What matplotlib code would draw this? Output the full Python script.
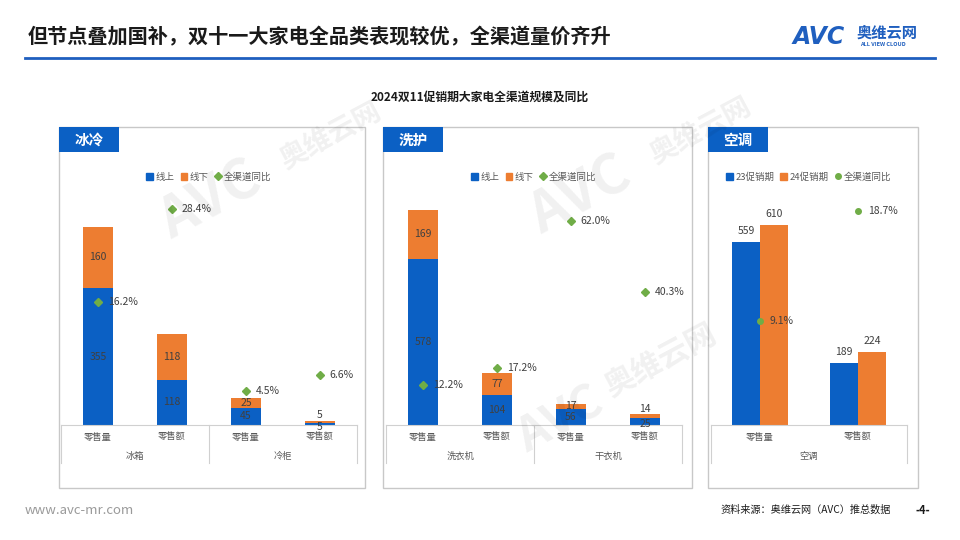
import matplotlib.pyplot as plt
from matplotlib.lines import Line2D
from matplotlib.patches import Rectangle, Patch

plt.rcParams['font.family'] = ['Noto Sans CJK SC', 'DejaVu Sans']

# ---- data ----
cats = ['零售量', '零售额', '零售量', '零售额']

fridge_groups = ['冰箱', '冷柜']
fridge_online = [355, 118, 45, 5]
fridge_offline = [160, 118, 25, 5]
fridge_yoy = [16.2, 28.4, 4.5, 6.6]

wash_groups = ['洗衣机', '干衣机']
wash_online = [578, 104, 56, 25]
wash_offline = [169, 77, 17, 14]
wash_yoy = [12.2, 17.2, 62.0, 40.3]

ac_cats = ['零售量', '零售额']
ac_group = '空调'
ac_23 = [559, 189]
ac_24 = [610, 224]
ac_yoy = [9.1, 18.7]

BLUE = '#0B60C4'
ORANGE = '#ED7D31'
GREEN = '#70AD47'
GRAY = '#595959'
LINE = '#D0D0D0'

W, H = 960, 540
fig = plt.figure(figsize=(9.6, 5.4), dpi=100)


def rect(x0, y0, x1, y1):
    # pixel box -> figure fraction
    return [x0 / W, 1 - y1 / H, (x1 - x0) / W, (y1 - y0) / H]


def fx(x):
    return x / W


def fy(y):
    return 1 - y / H


# ---- header / footer ----
fig.text(fx(28), fy(37), '但节点叠加国补，双十一大家电全品类表现较优，全渠道量价齐升',
         fontsize=14.5, fontweight='bold', color='#1a1a1a', va='center')
fig.add_artist(Line2D([fx(25), fx(935)], [fy(58), fy(58)], color='#1F5FBF', lw=2))
fig.text(fx(793), fy(37), 'AVC', fontsize=17, fontweight='bold', style='italic',
         color='#1F5FBF', va='center', family='DejaVu Sans')
fig.text(fx(857), fy(33), '奥维云网', fontsize=11, fontweight='bold', color='#1F5FBF', va='center')
fig.text(fx(860), fy(44.5), 'ALL VIEW CLOUD', fontsize=4, fontweight='bold', color='#1F5FBF', va='center')
fig.text(0.5, fy(97), '2024双11促销期大家电全渠道规模及同比', fontsize=8.5,
         fontweight='bold', color='#1a1a1a', ha='center', va='center')
fig.text(fx(25), fy(510), 'www.avc-mr.com', fontsize=9.5, color='#9a9a9a', va='center')
fig.text(fx(720), fy(510), '资料来源：奥维云网（AVC）推总数据', fontsize=7.3,
         color='#1a1a1a', va='center')
fig.text(fx(916), fy(510), '-4-', fontsize=8, fontweight='bold', color='#1a1a1a', va='center')

# ---- faint watermarks ----
for (x, y, s, fs) in [(210, 200, 'AVC', 40), (580, 195, 'AVC', 40), (330, 135, '奥维云网', 20),
                      (700, 130, '奥维云网', 20), (660, 360, '奥维云网', 22), (560, 420, 'AVC', 34)]:
    fig.text(fx(x), fy(y), s, fontsize=fs, fontweight='bold', style='italic', color='#000000',
             alpha=0.06, rotation=28, ha='center', va='center')

# ---- panel frames and tabs ----
panels = [(59, 365, '冰冷'), (383, 692, '洗护'), (708, 918, '空调')]
for x0, x1, name in panels:
    fig.add_artist(Rectangle((fx(x0), fy(488)), (x1 - x0) / W, (488 - 127) / H,
                             transform=fig.transFigure, fill=False, ec='#C8C8C8', lw=1))
    fig.add_artist(Rectangle((fx(x0), fy(152)), 60 / W, 25 / H, transform=fig.transFigure,
                             fc='#0B60C4', ec='none'))
    fig.text(fx(x0 + 30), fy(139.5), name, fontsize=10.5, fontweight='bold', color='white',
             ha='center', va='center')


def cat_axis(ax, labels, groups, split):
    n = len(labels)
    tr = ax.get_xaxis_transform()
    depth = 38 / 230
    ax.plot([-0.5, n - 0.5], [0, 0], transform=tr, color=LINE, lw=0.8, clip_on=False)
    xs = [-0.5, n - 0.5] + ([split] if split is not None else [])
    for xv in xs:
        ax.plot([xv, xv], [0, -depth], transform=tr, color=LINE, lw=0.8, clip_on=False)
    for i, lab in enumerate(labels):
        ax.text(i, -12 / 230, lab, transform=tr, ha='center', va='center', fontsize=6.7, color=GRAY)
    for gx, g in groups:
        ax.text(gx, -31 / 230, g, transform=tr, ha='center', va='center', fontsize=6.7, color=GRAY)


def stacked_panel(x0, x1, online, offline, yoy, groups, ymax, y2max, legend_cx):
    ax = fig.add_axes(rect(x0, 195, x1, 425))
    ax.set_xlim(-0.5, 3.5)
    ax.set_ylim(0, ymax)
    ax.axis('off')
    xs = range(len(online))
    ax.bar(xs, online, width=0.4, color=BLUE, label='线上')
    ax.bar(xs, offline, width=0.4, bottom=online, color=ORANGE, label='线下')
    px_per_unit = 230 / ymax
    for i in xs:
        # nudge labels apart when both segments are thin
        thin = (online[i] + offline[i]) * px_per_unit < 15
        ax.annotate(str(online[i]), (i, online[i] / 2), xytext=(0, -2 if thin else 0),
                    textcoords='offset points', ha='center', va='center', fontsize=7.5, color='#404040')
        ax.annotate(str(offline[i]), (i, online[i] + offline[i] / 2), xytext=(0, 5 if thin else 0),
                    textcoords='offset points', ha='center', va='center', fontsize=7.5, color='#404040')
    cat_axis(ax, cats, [(0.5, groups[0]), (2.5, groups[1])], 1.5)
    ax2 = ax.twinx()
    ax2.set_ylim(0, y2max)
    ax2.axis('off')
    ln, = ax2.plot(list(xs), yoy, ls='none', marker='D', ms=4, color=GREEN, label='全渠道同比')
    for i in xs:
        ax2.annotate(f'{yoy[i]:.1f}%', (i, yoy[i]), xytext=(7, 0), textcoords='offset points',
                     ha='left', va='center', fontsize=7.5, color='#404040')
    h1 = Patch(color=BLUE, label='线上')
    h2 = Patch(color=ORANGE, label='线下')
    fig.legend(handles=[h1, h2, ln], loc='center', bbox_to_anchor=(fx(legend_cx), fy(177)),
               ncol=3, frameon=False, fontsize=6.8, labelcolor=GRAY, handlelength=0.7,
               handleheight=0.7, handletextpad=0.3, columnspacing=0.6, borderpad=0)


stacked_panel(61, 357, fridge_online, fridge_offline, fridge_yoy, fridge_groups, 597, 30.3, 209)
stacked_panel(386, 682, wash_online, wash_offline, wash_yoy, wash_groups, 799, 69.9, 534)

# ---- air conditioner panel ----
ax = fig.add_axes(rect(711, 195, 907, 425))
ax.set_xlim(-0.5, 1.5)
ax.set_ylim(0, 701)
ax.axis('off')
w = 0.286
xs = [0, 1]
ax.bar([x - w / 2 for x in xs], ac_23, width=w, color=BLUE)
ax.bar([x + w / 2 for x in xs], ac_24, width=w, color=ORANGE)
for i in xs:
    ax.annotate(str(ac_23[i]), (i - w / 2, ac_23[i]), xytext=(0, 4), textcoords='offset points',
                ha='center', va='bottom', fontsize=7.5, color='#404040')
    ax.annotate(str(ac_24[i]), (i + w / 2, ac_24[i]), xytext=(0, 4), textcoords='offset points',
                ha='center', va='bottom', fontsize=7.5, color='#404040')
cat_axis(ax, ac_cats, [(0.5, ac_group)], None)
ax2 = ax.twinx()
ax2.set_ylim(0, 20.07)
ax2.axis('off')
ax2.plot(xs, ac_yoy, ls='none', marker='o', ms=4, color=GREEN)
for i in xs:
    ax2.annotate(f'{ac_yoy[i]:.1f}%', (i, ac_yoy[i]), xytext=(7, 0), textcoords='offset points',
                 ha='left', va='center', fontsize=7.5, color='#404040')
fig.legend(handles=[Patch(color=BLUE, label='23促销期'), Patch(color=ORANGE, label='24促销期'),
                    Line2D([], [], ls='none', marker='o', ms=4, color=GREEN, label='全渠道同比')],
           loc='center', bbox_to_anchor=(fx(809), fy(177)), ncol=3, frameon=False, fontsize=6.8,
           labelcolor=GRAY, handlelength=0.7, handleheight=0.7, handletextpad=0.3,
           columnspacing=0.6, borderpad=0)

fig.savefig('out.png', dpi=100)
